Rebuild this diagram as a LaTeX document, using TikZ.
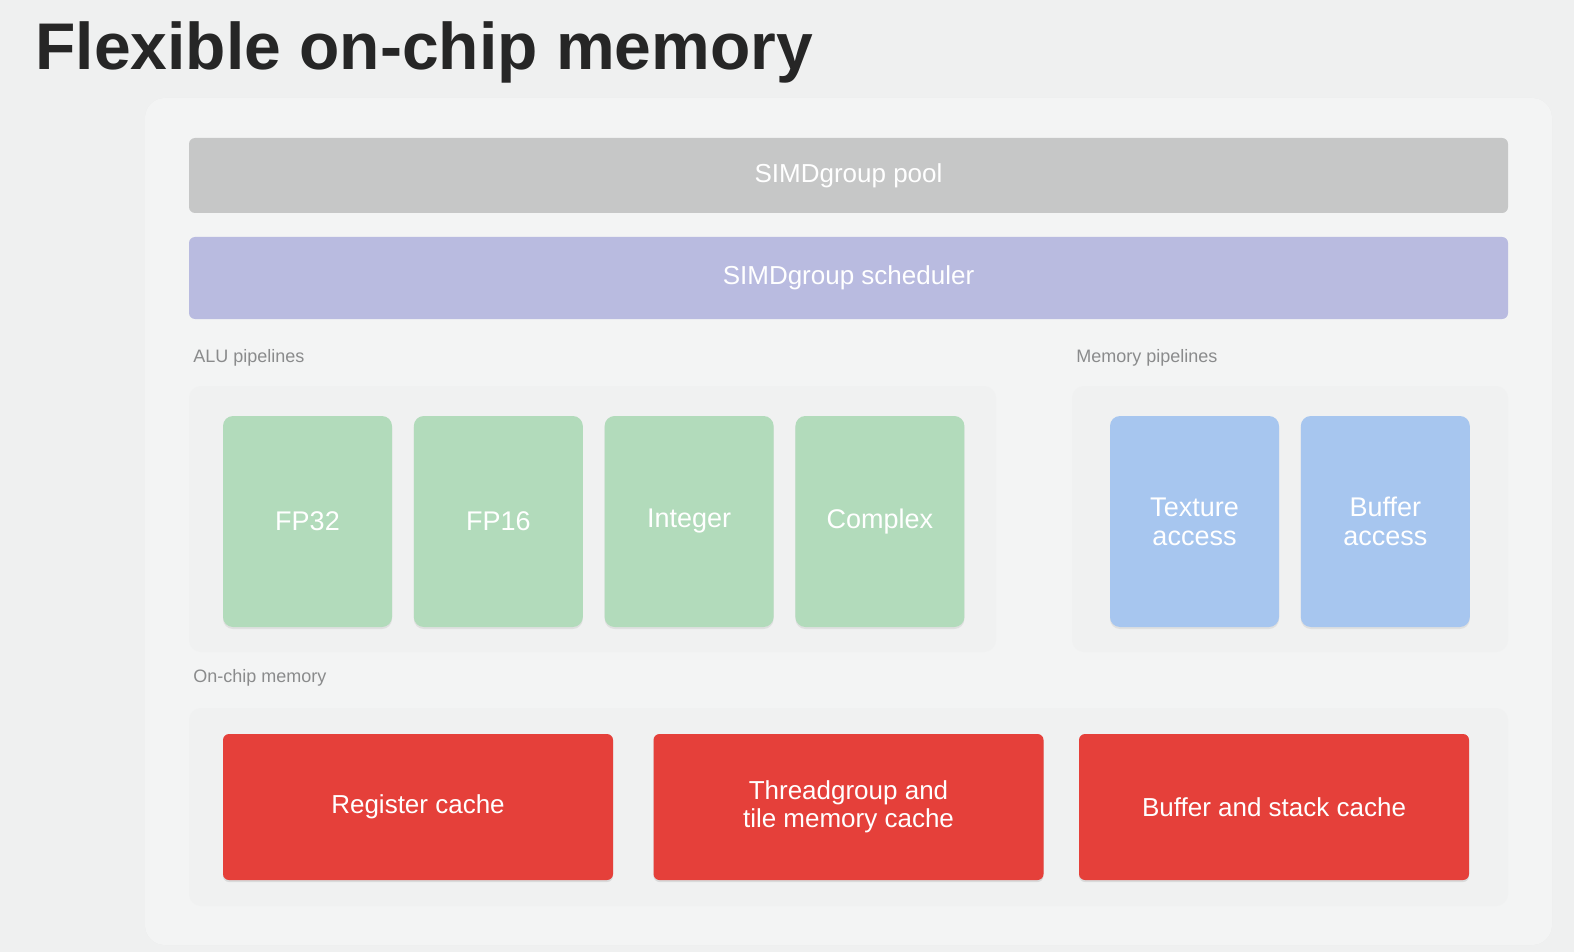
\documentclass[tikz,border=0pt]{standalone}
\usepackage{fontspec}
\setmainfont{Liberation Sans}
\usetikzlibrary{positioning,shadows}
\definecolor{bgc}{HTML}{EFF0F0}
\definecolor{panelc}{HTML}{F3F4F4}
\definecolor{poolc}{HTML}{C6C7C7}
\definecolor{schedc}{HTML}{B9BBE0}
\definecolor{aluc}{HTML}{B2DBBB}
\definecolor{memc}{HTML}{A7C6EF}
\definecolor{cachec}{HTML}{E5403A}
\definecolor{labc}{HTML}{8A8B8C}
\tikzset{
  bar/.style={rounded corners=3pt,text=white,font=\fontsize{13}{15}\selectfont,
    minimum width=659.5pt,minimum height=#1,inner sep=0pt},
  group/.style={fill=panelc,rounded corners=6pt,draw=none},
  unit/.style={rounded corners=5pt,text=white,minimum width=84.5pt,minimum height=105.5pt,
    font=\fontsize{13.5}{14.5}\selectfont,align=center,inner sep=0pt,
    drop shadow={shadow xshift=0pt,shadow yshift=-1pt,opacity=.15}},
  cache/.style={fill=cachec,rounded corners=3pt,text=white,minimum width=195pt,minimum height=73pt,
    font=\fontsize{13}{14}\selectfont,align=center,inner sep=0pt,
    drop shadow={shadow xshift=0pt,shadow yshift=-1pt,opacity=.2}},
  caption/.style={anchor=west,text=labc,font=\fontsize{9}{10}\selectfont,inner sep=0pt}
}
\begin{document}
\begin{tikzpicture}[x=0.5pt,y=-0.5pt]
  \fill[bgc] (0,0) rectangle (1574,952);
  \useasboundingbox (0,0) rectangle (1574,952);

  \node[anchor=base west,inner sep=0pt,font=\fontsize{33}{36}\selectfont\bfseries,text=black!85]
    (title) at (35,70) {Flexible on-chip memory};
  \fill[panelc,rounded corners=10pt,drop shadow={shadow xshift=0pt,shadow yshift=0pt,opacity=.06}]
    (145,98) rectangle (1552,945);

  \node[bar=37.5pt,fill=poolc] (pool) at (848.5,175.5) {SIMDgroup pool};
  \node[bar=41pt,fill=schedc] (sched) at (848.5,278) {SIMDgroup scheduler};

  % pipelines
  \node[caption] (alulab) at (193,358) {ALU pipelines};
  \node[caption] (memlab) at (1076,358) {Memory pipelines};
  \fill[group,fill=bgc!70!panelc] (189,386) rectangle (996,652);
  \fill[group,fill=bgc!70!panelc] (1072,386) rectangle (1508,652);

  \node[unit,fill=aluc] (fp32) at (307.5,521.5) {FP32};
  \node[unit,fill=aluc,right=10.5pt of fp32] (fp16) {FP16};
  \node[unit,fill=aluc,right=10.5pt of fp16] (int) {Integer};
  \node[unit,fill=aluc,right=10.5pt of int] (cplx) {Complex};
  \node[unit,fill=memc] (tex) at (1194.5,521.5) {Texture\\access};
  \node[unit,fill=memc,right=10.5pt of tex] (buf) {Buffer\\access};

  % memory
  \node[caption] (chiplab) at (193,678) {On-chip memory};
  \fill[group,fill=bgc!70!panelc] (189,708) rectangle (1508,906);
  \node[cache] (reg) at (418,807) {Register cache};
  \node[cache] (tg) at (848.5,807) {Threadgroup and\\tile memory cache};
  \node[cache] (bsc) at (1274,807) {Buffer and stack cache};
\end{tikzpicture}
\end{document}
